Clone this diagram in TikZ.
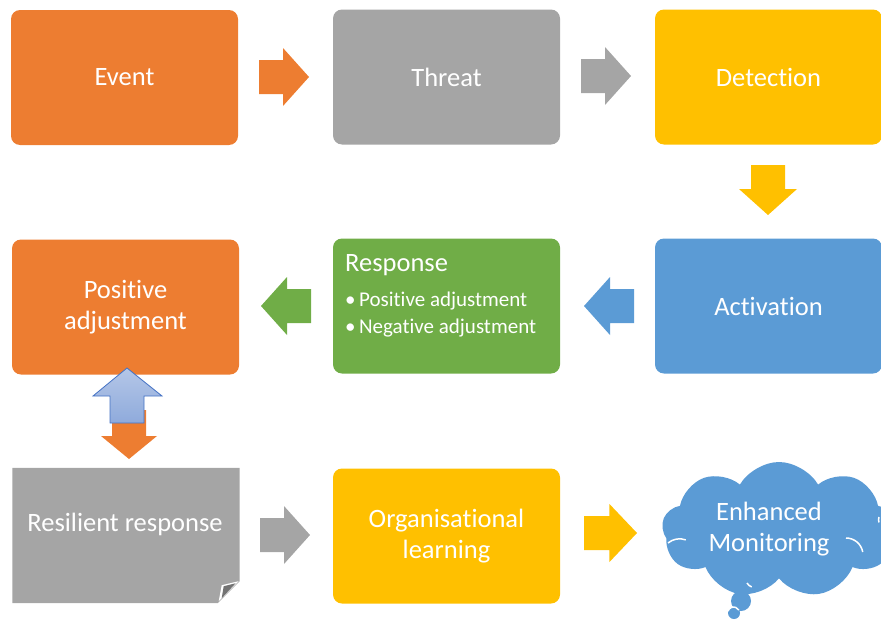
\documentclass[tikz,border=0pt]{standalone}
\usepackage{fontspec}
\setmainfont{Carlito}[Ligatures=NoCommon]
\usetikzlibrary{shapes.symbols,calc}

\definecolor{orangeC}{HTML}{ED7D31}
\definecolor{grayC}{HTML}{A5A5A5}
\definecolor{goldC}{HTML}{FFC000}
\definecolor{greenC}{HTML}{70AD47}
\definecolor{blueC}{HTML}{5B9BD5}
\definecolor{navyC}{HTML}{4472C4}

\tikzset{
  stage/.style={rectangle, rounded corners=9pt, minimum width=227pt, minimum height=135pt,
    inner sep=0pt, text=white, font=\fontsize{26.5}{31}\selectfont, align=center},
  label/.style={inner sep=0pt, text=white, font=\fontsize{26.5}{31}\selectfont, align=center},
  bullet/.style={inner sep=0pt, anchor=west, text=white, font=\fontsize{21}{25}\selectfont},
  puffline/.style={white, line width=1.5pt},
  % block arrow pointing along +x from the middle of its tail
  blockarrow/.pic={
    \path[pic actions] (0,-17) -- (24,-17) -- (24,-29) -- (50,0) -- (24,29) -- (24,17) -- (0,17) -- cycle;
  },
}

\begin{document}
\begin{tikzpicture}[x=1pt,y=-1pt]
\useasboundingbox (0,0) rectangle (881,621);

% top row
\node[stage, fill=orangeC] (event)  at (124.5,77.5) {Event};
\node[stage, fill=grayC]   (threat) at (446.5,77)   {Threat};
\node[stage, fill=goldC]   (detect) at (768.5,77)   {Detection};

% middle row
\node[stage, fill=orangeC] (posadj) at (125.5,307)  {Positive\\adjustment};
\node[stage, fill=greenC]  (resp)   at (446.5,306)  {};
\node[stage, fill=blueC]   (activ)  at (768.5,306)  {Activation};

\node[label, anchor=west] (resptitle) at (345,265) {Response};
\node[bullet] (b1) at (345,301) {\textbullet\,Positive adjustment};
\node[bullet] (b2) at (345,328) {\textbullet\,Negative adjustment};

% bottom row
\node[stage] (resil) at (126,535.5) {};
\fill[grayC] (resil.north west) -- (resil.north east) -- ($(resil.south east)+(0,-22)$)
  -- ($(resil.south east)+(-22,0)$) -- (resil.south west) -- cycle;
\fill[white] ($(resil.south east)+(-18,-18)$) -- ($(resil.south east)+(-1,-22)$)
  -- ($(resil.south east)+(-21,-2)$) -- cycle;
\fill[gray!90!black] ($(resil.south east)+(-16,-17)$) -- ($(resil.south east)+(-4,-20)$)
  -- ($(resil.south east)+(-18,-5)$) -- cycle;
\node[label] (resiltext) at (125,524) {Resilient response};

\node[stage, fill=goldC] (orglearn) at (446.5,536) {Organisational\\learning};

% thought cloud
\node[cloud, cloud puffs=9, cloud puff arc=120, aspect=1.7, fill=blueC,
  minimum width=234pt, minimum height=136pt, inner sep=0pt] (cloud) at (779,530) {};
\fill[blueC] (741,601) circle (10);
\fill[blueC] (734,613) circle (6);
\draw[puffline] (728,611) arc (200:330:6);
\draw[puffline] (747,583) arc (150:110:9);
\draw[puffline] (668,543) arc (230:290:18);
\draw[puffline] (846,538) arc (-90:-10:17);
\draw[puffline] (879,517) arc (200:160:8);
\node[label] (cloudtext) at (769,529) {Enhanced\\Monitoring};

% flow arrows
\pic[fill=orangeC] (a1) at (259,77)  {blockarrow};
\pic[fill=grayC]   (a2) at (581,76)  {blockarrow};
\pic[fill=goldC, rotate=-90] (a3) at (768,165) {blockarrow};
\pic[fill=blueC, rotate=180] (a4) at (634,306) {blockarrow};
\pic[fill=greenC, rotate=180] (a5) at (311,306) {blockarrow};
\pic[fill=grayC]   (a6) at (260,535) {blockarrow};
\pic[fill=goldC, xscale=1.06] (a7) at (584,533) {blockarrow};

% two-way link between positive adjustment and resilient response
\fill[orangeC] (112,410) -- (146,410) -- (146,436) -- (157,436) -- (129,459)
  -- (101,436) -- (112,436) -- cycle;
\shade[top color=navyC!40, bottom color=navyC!60, draw=navyC, line width=0.8pt]
  (127,368) -- (162,396) -- (144,396) -- (144,423) -- (110,423) -- (110,396)
  -- (93,396) -- cycle;
\end{tikzpicture}
\end{document}
